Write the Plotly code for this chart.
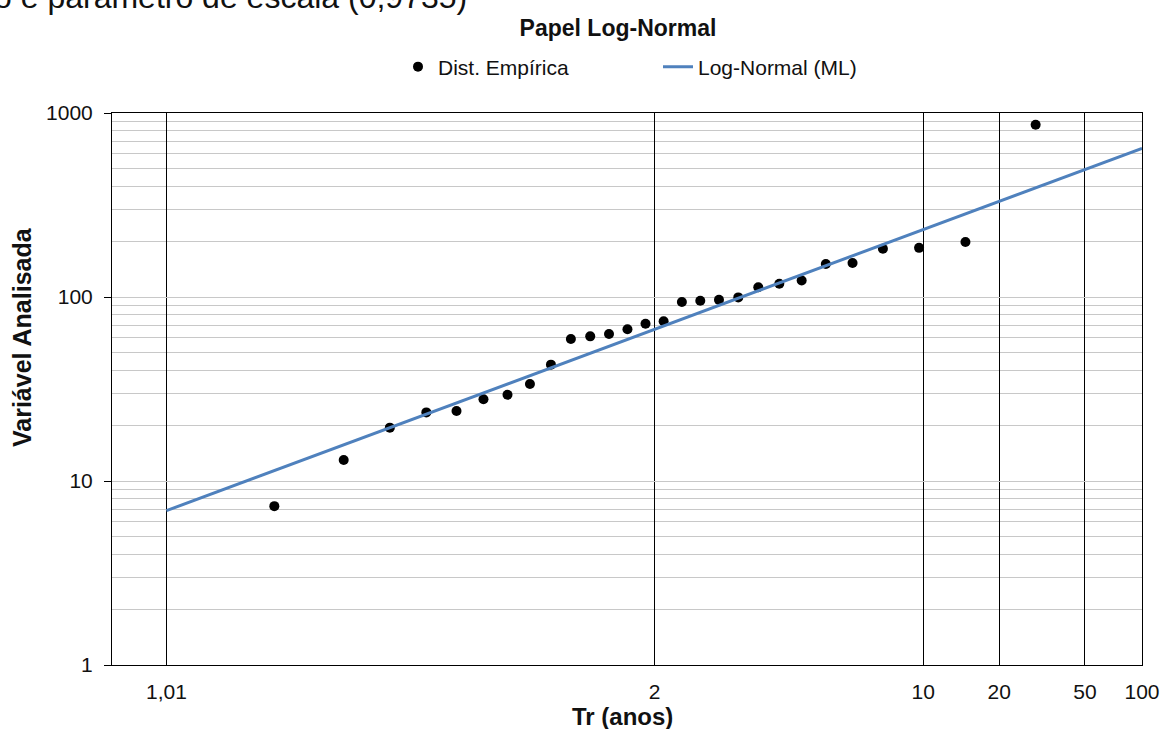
import plotly.graph_objects as go
from statistics import NormalDist

# ---------------- data ----------------
# Empirical distribution: return period (years) and analysed variable
tr_emp = [1.036, 1.074, 1.115, 1.160, 1.208, 1.261, 1.318, 1.381, 1.450, 1.526,
          1.611, 1.706, 1.813, 1.933, 2.071, 2.231, 2.417, 2.636, 2.900, 3.222,
          3.625, 4.143, 4.833, 5.800, 7.250, 9.667, 14.5, 29.0]
val_emp = [7.3, 13.0, 19.5, 23.6, 24.0, 27.8, 29.4, 33.7, 42.9, 59.1,
           61.1, 62.9, 66.8, 71.6, 73.8, 94.0, 95.5, 96.5, 99.5, 113,
           118, 123, 151, 153, 183, 185, 199, 864]

# Fitted Log-Normal (ML) line: end points
tr_fit = [1.01, 100]
val_fit = [6.9, 643]

# axis ticks
x_tick_tr = [1.01, 2, 10, 20, 50, 100]
x_tick_text = ["1,01", "2", "10", "20", "50", "100"]
y_tick_vals = [1, 10, 100, 1000]
y_tick_text = ["1", "10", "100", "1000"]

# ---------------- scale (normal probability paper) ----------------
nd = NormalDist()


def tr_to_z(tr):
    return nd.inv_cdf(1 - 1 / tr)


x_emp = [tr_to_z(t) for t in tr_emp]
x_fit = [tr_to_z(t) for t in tr_fit]
x_ticks = [tr_to_z(t) for t in x_tick_tr]

FONT = "Liberation Sans, Arial, sans-serif"

fig = go.Figure()
fig.add_trace(go.Scatter(
    x=x_emp, y=val_emp, mode="markers", name="Dist. Empírica",
    marker=dict(color="black", size=10, line=dict(width=0)),
))
fig.add_trace(go.Scatter(
    x=x_fit, y=val_fit, mode="lines", name="Log-Normal (ML)",
    line=dict(color="#4f81bd", width=3),
))

L, R, T, B = 112, 20, 113, 64
W, H = 1162, 729
pw, ph = W - L - R, H - T - B


def px_x(p):
    return (p - L) / pw


def px_y(p):
    return (H - B - p) / ph


fig.update_layout(
    width=W, height=H,
    margin=dict(l=L, r=R, t=T, b=B, autoexpand=False),
    paper_bgcolor="white", plot_bgcolor="white",
    font=dict(family=FONT, color="black"),
    title=dict(text="<b>Papel Log-Normal</b>", x=618 / W, xanchor="center",
               y=1 - 28 / H, yanchor="middle",
               font=dict(size=23, color="#111", family=FONT)),
    showlegend=True,
    legend=dict(orientation="h", x=px_x(398), xanchor="left",
                y=px_y(67), yanchor="middle",
                font=dict(size=21, color="#111"),
                entrywidth=215, bgcolor="rgba(0,0,0,0)"),
    xaxis=dict(
        range=[-2.59, 2.3263], tickvals=x_ticks, ticktext=x_tick_text,
        showgrid=True, gridcolor="black", gridwidth=1,
        showline=True, linecolor="black", linewidth=1, mirror=True,
        ticks="", zeroline=False, ticklabelstandoff=8, automargin=False,
        tickfont=dict(size=21, color="#111"),
    ),
    yaxis=dict(
        type="log", range=[0, 3], tickvals=y_tick_vals, ticktext=y_tick_text,
        showgrid=True, gridcolor="#c8c8c8", gridwidth=1,
        showline=True, linecolor="black", linewidth=1, mirror=True,
        ticks="outside", ticklen=7, tickcolor="black",
        ticklabelstandoff=7, automargin=False,
        minor=dict(dtick="D1", showgrid=True, gridcolor="#c8c8c8",
                   gridwidth=1, ticks=""),
        zeroline=False,
        tickfont=dict(size=21, color="#111"),
    ),
    annotations=[
        dict(text="<b>Tr (anos)</b>", xref="paper", yref="paper",
             x=px_x(622), y=px_y(716), xanchor="center", yanchor="middle",
             showarrow=False, font=dict(size=24, color="#111")),
        dict(text="<b>Variável Analisada</b>", xref="paper", yref="paper",
             x=px_x(22), y=px_y(337), xanchor="center", yanchor="middle",
             textangle=-90, showarrow=False,
             font=dict(size=25, color="#111")),
        dict(text="o e parâmetro de escala (0,9735)", xref="paper",
             yref="paper", x=px_x(469), y=px_y(-3), xanchor="right",
             yanchor="middle", showarrow=False,
             font=dict(size=32, color="#111")),
    ],
)

fig.write_html("out.html",
               config={"displayModeBar": False},
               post_script="document.body.style.margin='0';"
                           "document.body.style.padding='0';")
